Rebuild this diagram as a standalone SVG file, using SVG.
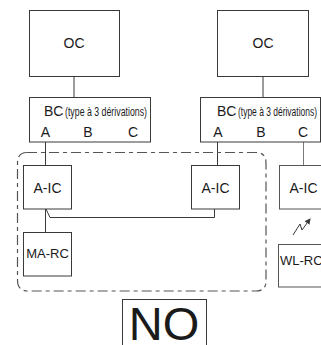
<svg xmlns="http://www.w3.org/2000/svg" width="321" height="345" viewBox="0 0 321 345">
<style>
  .box{fill:#fff;stroke:#3a3a3a;stroke-width:1}
  .gbox{fill:#fff;stroke:#555;stroke-width:1}
  .ln{fill:none;stroke:#3a3a3a;stroke-width:1}
  .gln{fill:none;stroke:#7a7a7a;stroke-width:1}
  .dash{fill:none;stroke:#555;stroke-width:1.2;stroke-dasharray:10 4 4 4}
  text{font-family:"Liberation Sans",Arial,sans-serif;fill:#1a1a1a}
  .t14{font-size:14px;text-anchor:middle}
  .t13{font-size:13px;text-anchor:middle}
  .sm{font-size:12px}
</style>
<defs>
  <marker id="arr" markerWidth="6" markerHeight="6" refX="5" refY="3" orient="auto" markerUnits="userSpaceOnUse">
    <path d="M0,0 L6,3 L0,6 z" fill="#3a3a3a"/>
  </marker>
</defs>
<rect width="321" height="345" fill="#fff"/>
<g id="connectors">
  <line class="ln" x1="74" y1="76.5" x2="74" y2="97.5"/>
  <line class="ln" x1="263" y1="76.5" x2="263" y2="97.5"/>
  <line class="ln" x1="45.5" y1="142" x2="45.5" y2="165"/>
  <line class="ln" x1="217.5" y1="142" x2="217.5" y2="165"/>
  <line class="gln" x1="303.5" y1="142" x2="303.5" y2="165"/>
  <line class="ln" x1="45.5" y1="209" x2="45.5" y2="232"/>
  <polyline class="ln" points="46,209 50,217.5 214.5,217.5 214.5,209"/>
  <polyline class="ln" points="293,235 300,224 302,230 310,219" marker-end="url(#arr)"/>
  <path class="dash" d="M27,152.5 L256,152.5 Q266,152.5 266,163 L266,281 Q266,291 256,291 L28,291 Q17.5,291 17.5,280 L17.5,163 Q17.5,152.5 27,152.5 Z"/>
</g>
<g id="oc-left">
  <rect class="box" x="29.5" y="10.5" width="90" height="66"/>
  <text class="t14" x="74" y="48">OC</text>
</g>
<g id="oc-right">
  <rect class="box" x="217.5" y="10.5" width="91" height="66"/>
  <text class="t14" x="263" y="48">OC</text>
</g>
<g id="bc-left">
  <rect class="box" x="29.5" y="97.5" width="121" height="44.5"/>
  <text x="44" y="116" style="font-size:14px">BC</text>
  <text class="sm" x="65" y="116" textLength="82" lengthAdjust="spacingAndGlyphs">(type à 3 dérivations)</text>
  <text class="t14" x="45.5" y="137">A</text>
  <text class="t14" x="88" y="137">B</text>
  <text class="t14" x="133" y="137">C</text>
</g>
<g id="bc-right">
  <rect class="box" x="200.5" y="97.5" width="120" height="44.5"/>
  <text x="217" y="116" style="font-size:14px">BC</text>
  <text class="sm" x="238" y="116" textLength="79" lengthAdjust="spacingAndGlyphs">(type à 3 dérivations)</text>
  <text class="t14" x="218" y="137">A</text>
  <text class="t14" x="261" y="137">B</text>
  <text class="t14" x="303" y="137">C</text>
</g>
<g id="aic-left">
  <rect class="box" x="23.5" y="165.5" width="48" height="43.5"/>
  <text class="t14" x="47.5" y="193">A-IC</text>
</g>
<g id="aic-mid">
  <rect class="box" x="191.5" y="165.5" width="48" height="43.5"/>
  <text class="t14" x="215.5" y="193">A-IC</text>
</g>
<g id="aic-right">
  <rect class="gbox" x="279.5" y="165.5" width="48" height="43.5"/>
  <text class="t14" x="303.5" y="193">A-IC</text>
</g>
<g id="marc">
  <rect class="box" x="23.5" y="232.5" width="48" height="43.5"/>
  <text class="t13" x="47.5" y="258">MA-RC</text>
</g>
<g id="wlrc">
  <rect class="gbox" x="278.5" y="244.5" width="48" height="42.5"/>
  <text x="280" y="265" style="font-size:13px">WL-RC</text>
</g>
<g id="no">
  <rect class="box" x="122.5" y="299.5" width="84" height="50"/>
  <text x="164" y="340" style="font-size:47px;text-anchor:middle">NO</text>
</g>
</svg>
